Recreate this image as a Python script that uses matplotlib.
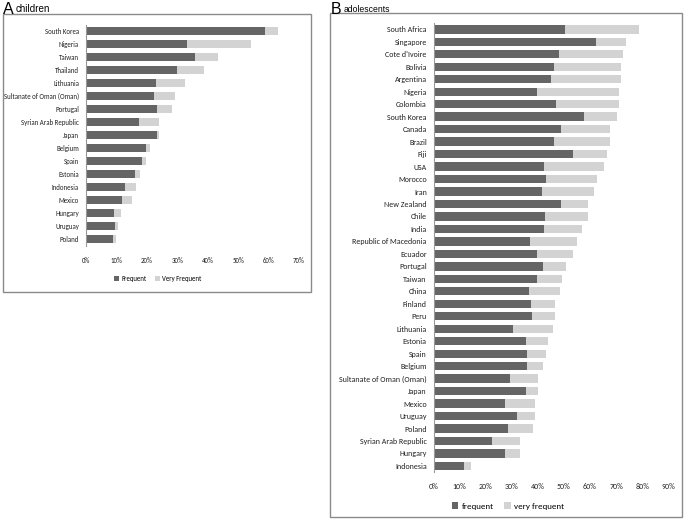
import matplotlib
matplotlib.use("Agg")
import matplotlib.pyplot as plt
import matplotlib.font_manager as fm
from matplotlib.patches import Rectangle
from matplotlib.ticker import FuncFormatter

# Panel A: children
countries_a = ["South Korea", "Nigeria", "Taiwan", "Thailand", "Lithuania",
               "Sultanate of Oman (Oman)", "Portugal", "Syrian Arab Republic",
               "Japan", "Belgium", "Spain", "Estonia", "Indonesia", "Mexico",
               "Hungary", "Uruguay", "Poland"]
frequent_a = [58.9, 33.1, 35.8, 29.9, 23.1, 22.2, 23.4, 17.3, 23.4, 19.6,
              18.3, 16.1, 12.9, 11.8, 9.2, 9.4, 8.8]
very_frequent_a = [4.1, 21.1, 7.5, 8.8, 9.5, 7.1, 4.7, 6.7, 0.6, 1.4,
                   1.4, 1.8, 3.6, 3.2, 2.2, 1.2, 1.1]

# Panel B: adolescents
countries_b = ["South Africa", "Singapore", "Cote d'Ivoire", "Bolivia", "Argentina",
               "Nigeria", "Colombia", "South Korea", "Canada", "Brazil", "Fiji",
               "USA", "Morocco", "Iran", "New Zealand", "Chile", "India",
               "Republic of Macedonia", "Ecuador", "Portugal", "Taiwan", "China",
               "Finland", "Peru", "Lithuania", "Estonia", "Spain", "Belgium",
               "Sultanate of Oman (Oman)", "Japan", "Mexico", "Uruguay", "Poland",
               "Syrian Arab Republic", "Hungary", "Indonesia"]
frequent_b = [50.2, 62.3, 48.1, 46.1, 45.0, 39.7, 46.8, 57.5, 48.7, 46.1, 53.5,
              42.4, 43.1, 41.5, 48.9, 42.6, 42.4, 36.9, 39.7, 41.8, 39.7, 36.4,
              37.4, 37.7, 30.5, 35.3, 35.7, 35.7, 29.2, 35.3, 27.3, 31.8, 28.4,
              22.2, 27.3, 11.7]
very_frequent_b = [28.4, 11.5, 24.5, 25.9, 26.7, 31.3, 24.2, 12.7, 18.9, 21.5, 13.0,
                   22.8, 19.7, 20.1, 10.3, 16.6, 14.6, 18.1, 13.6, 8.9, 9.5, 11.9,
                   9.0, 8.7, 15.4, 8.7, 7.4, 6.3, 10.7, 4.6, 11.4, 6.9, 9.6,
                   11.0, 5.7, 2.6]

DARK = "#656565"
LIGHT = "#d3d3d3"
BORDER = "#8a8a8a"
TXT = "#222222"

W, H = 685, 522
fig = plt.figure(figsize=(W / 100, H / 100), dpi=100)
renderer = fig.canvas.get_renderer()

names = {f.name for f in fm.fontManager.ttflist}


def pick(cands, default):
    for n in cands:
        if n in names:
            return fm.FontProperties(family=n, weight="normal", style="normal")
    return fm.FontProperties(family=default)


# Calibri-like narrow face for labels (as in the reference)
narrow_fp = pick(["Carlito", "Liberation Sans Narrow", "PT Sans Narrow",
                  "Roboto Condensed", "Open Sans Condensed", "Archivo Narrow",
                  "Asap Condensed"], "Liberation Sans")
title_fp = pick(["Liberation Sans"], "DejaVu Sans")


def fit_size(fp, text, target_px, base=10.0):
    p = fp.copy()
    p.set_size(base)
    t = fig.text(0, 0, text, fontproperties=p)
    w = t.get_window_extent(renderer).width
    t.remove()
    return base * target_px / w


def fp_sized(fp, size):
    p = fp.copy()
    p.set_size(size)
    return p


def px_axes(x0, y0, x1, y1):
    return fig.add_axes([x0 / W, 1 - y1 / H, (x1 - x0) / W, (y1 - y0) / H])


def draw_panel(ax, countries, freq, vfreq, xmax, step, bh, labels, lab_fp):
    y = list(range(len(countries)))
    ax.barh(y, freq, height=bh, color=DARK, label=labels[0])
    ax.barh(y, vfreq, left=freq, height=bh, color=LIGHT, label=labels[1])
    ax.set_ylim(len(countries) - 0.5, -0.5)
    ax.set_xlim(0, xmax)
    ax.set_yticks(y)
    ax.set_yticklabels(countries)
    ax.set_xticks(range(0, xmax + 1, step))
    ax.xaxis.set_major_formatter(FuncFormatter(lambda v, p: f"{int(v)}%"))
    ax.tick_params(axis="x", length=0, pad=8, colors=TXT)
    ax.tick_params(axis="y", length=0, pad=5, colors=TXT)
    for lab in ax.get_yticklabels() + ax.get_xticklabels():
        lab.set_fontproperties(lab_fp)
    for s in ["top", "right", "bottom"]:
        ax.spines[s].set_visible(False)
    ax.spines["left"].set_color("#999999")
    ax.spines["left"].set_linewidth(0.8)
    ax.patch.set_alpha(0)


# Panel boxes
fig.patches.append(Rectangle((3 / W, 1 - 292 / H), (311 - 3) / W, (292 - 14) / H,
                             transform=fig.transFigure, fill=False,
                             edgecolor=BORDER, linewidth=1.0))
fig.patches.append(Rectangle((330 / W, 1 - 517 / H), (682 - 330) / W, (517 - 13) / H,
                             transform=fig.transFigure, fill=False,
                             edgecolor=BORDER, linewidth=1.0))

# Titles
s_small = fit_size(title_fp, "children", 35)
s_small_b = fit_size(title_fp, "adolescents", 46)
fig.text(3 / W, 1 - 9 / H, "A", fontproperties=fp_sized(title_fp, 11.5),
         va="center", ha="left")
fig.text(16 / W, 1 - 9 / H, "children", fontproperties=fp_sized(title_fp, s_small),
         va="center", ha="left")
fig.text(331 / W, 1 - 9 / H, "B", fontproperties=fp_sized(title_fp, 11.5),
         va="center", ha="left")
fig.text(344 / W, 1 - 9 / H, "adolescents", fontproperties=fp_sized(title_fp, s_small_b),
         va="center", ha="left")

# Panel A
size_a = fit_size(narrow_fp, "Sultanate of Oman (Oman)", 75)
axA = px_axes(86, 24.5, 299, 245.5)
draw_panel(axA, countries_a, frequent_a, very_frequent_a, 70, 10, 0.64,
           ["Frequent", "Very Frequent"], fp_sized(narrow_fp, size_a))
leg_a = fit_size(narrow_fp, "Very Frequent", 39)
axA.legend(loc="center", bbox_to_anchor=(158 / W, 1 - 278 / H),
           bbox_transform=fig.transFigure, ncol=2, frameon=False,
           prop=fp_sized(narrow_fp, leg_a),
           handlelength=0.7, handleheight=0.7, handletextpad=0.4, columnspacing=1.2)

# Panel B
size_b = fit_size(narrow_fp, "Sultanate of Oman (Oman)", 88)
axB = px_axes(433.7, 23.1, 668.3, 472.2)
draw_panel(axB, countries_b, frequent_b, very_frequent_b, 90, 10, 0.67,
           ["frequent", "very frequent"], fp_sized(narrow_fp, size_b))
leg_b = fit_size(narrow_fp, "very frequent", 50)
axB.legend(loc="center", bbox_to_anchor=(508 / W, 1 - 506 / H),
           bbox_transform=fig.transFigure, ncol=2, frameon=False,
           prop=fp_sized(narrow_fp, leg_b),
           handlelength=0.7, handleheight=0.7, handletextpad=0.4, columnspacing=1.2)

fig.savefig("out.png", dpi=100)
